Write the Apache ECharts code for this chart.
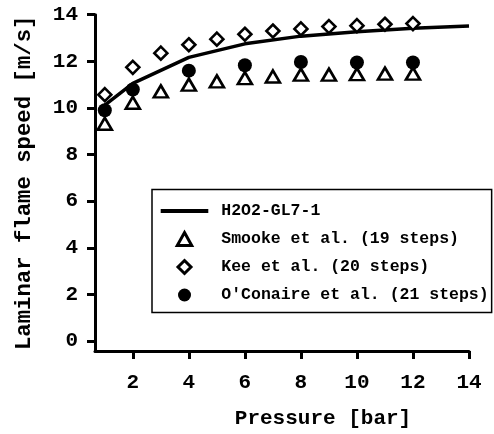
<!DOCTYPE html>
<html>
<head>
<meta charset="utf-8">
<script src="https://cdn.jsdelivr.net/npm/echarts@6/dist/echarts.min.js"></script>
<style>html,body{margin:0;padding:0;background:#fff}#c{width:494px;height:434px}</style>
</head>
<body>
<div id="c"></div>
<script>
var seriesNames = ['H2O2-GL7-1', 'Smooke et al. (19 steps)', 'Kee et al. (20 steps)', "O'Conaire et al. (21 steps)"];
var xTicks = [2, 4, 6, 8, 10, 12, 14];
var yTicks = [0, 2, 4, 6, 8, 10, 12, 14];

var glPressure = [1, 2, 4, 6, 8, 10, 12, 14];
var glSpeed = [10.12, 11.05, 12.17, 12.75, 13.08, 13.27, 13.42, 13.52];

var smookePressure = [1, 2, 3, 4, 5, 6, 7, 8, 9, 10, 11, 12];
var smookeSpeed = [9.32, 10.22, 10.71, 11.0, 11.14, 11.28, 11.35, 11.43, 11.43, 11.45, 11.47, 11.47];

var keePressure = [1, 2, 3, 4, 5, 6, 7, 8, 9, 10, 11, 12];
var keeSpeed = [10.57, 11.74, 12.35, 12.71, 12.95, 13.16, 13.3, 13.39, 13.49, 13.53, 13.59, 13.62];

var oconPressure = [1, 2, 4, 6, 8, 10, 12];
var oconSpeed = [9.9, 10.79, 11.6, 11.83, 11.97, 11.95, 11.95];

function pairs(xs, ys) { return xs.map(function (x, i) { return [x, ys[i]]; }); }

var FONT = '"Liberation Mono", "Courier New", monospace';
var chart = echarts.init(document.getElementById('c'), null, {renderer: 'canvas'});
chart.setOption({
  animation: false,
  backgroundColor: '#fff',
  grid: {left: 95, right: 25, top: 14.7, bottom: 81.3, containLabel: false},
  xAxis: {
    type: 'value', min: 0.65, max: 14,
    name: 'Pressure [bar]', nameLocation: 'middle', nameGap: 57,
    nameTextStyle: {fontFamily: FONT, fontWeight: 'bold', fontSize: 21, color: '#000', padding: [0, 0, 0, 82]},
    axisLine: {show: true, onZero: false, lineStyle: {color: '#000', width: 3}},
    axisTick: {show: true, inside: false, length: 8, customValues: xTicks, lineStyle: {color: '#000', width: 3}},
    axisLabel: {customValues: xTicks, margin: 21, fontFamily: FONT, fontWeight: 'bold', fontSize: 21, color: '#000'},
    splitLine: {show: false}
  },
  yAxis: {
    type: 'value', min: -0.43, max: 14,
    name: 'Laminar flame speed [m/s]', nameLocation: 'middle', nameGap: 60,
    nameTextStyle: {fontFamily: FONT, fontWeight: 'bold', fontSize: 22.3, color: '#000'},
    axisLine: {show: true, onZero: false, lineStyle: {color: '#000', width: 3}},
    axisTick: {show: true, inside: false, length: 8, customValues: yTicks, lineStyle: {color: '#000', width: 3}},
    axisLabel: {customValues: yTicks, margin: 17, fontFamily: FONT, fontWeight: 'bold', fontSize: 21, color: '#000'},
    splitLine: {show: false}
  },
  legend: {
    orient: 'vertical', left: 152, top: 189.5,
    padding: [13, 3, 9, 8.7],
    itemWidth: 47.6, itemHeight: 13, itemGap: 11,
    borderColor: '#000', borderWidth: 1.5, backgroundColor: '#fff',
    textStyle: {fontFamily: FONT, fontWeight: 'bold', fontSize: 16.5, color: '#000', lineHeight: 16, padding: [0, 0, 0, 8]},
    data: [
      {name: seriesNames[0], icon: 'path://M0,0 L100,0 L100,8.5 L0,8.5 Z', itemStyle: {color: '#000', borderWidth: 0}},
      {name: seriesNames[1], icon: 'path://M50,0 L100,90 L0,90 Z', itemStyle: {borderWidth: 3}},
      {name: seriesNames[2], icon: 'path://M50,0 L100,50 L50,100 L0,50 Z', itemStyle: {borderWidth: 3}},
      {name: seriesNames[3]}
    ]
  },
  series: [
    {name: seriesNames[0], type: 'line', data: pairs(glPressure, glSpeed), symbol: 'none', smooth: false,
     lineStyle: {color: '#000', width: 3.5}, itemStyle: {color: '#000'}, z: 1},
    {name: seriesNames[1], type: 'scatter', data: pairs(smookePressure, smookeSpeed), symbol: 'triangle', symbolSize: [14, 12],
     itemStyle: {color: '#fff', borderColor: '#000', borderWidth: 2.6, opacity: 1}, z: 2},
    {name: seriesNames[2], type: 'scatter', data: pairs(keePressure, keeSpeed), symbol: 'diamond', symbolSize: [13, 13],
     itemStyle: {color: '#fff', borderColor: '#000', borderWidth: 2.6, opacity: 1}, z: 2},
    {name: seriesNames[3], type: 'scatter', data: pairs(oconPressure, oconSpeed), symbol: 'circle', symbolSize: 14,
     itemStyle: {color: '#000', borderWidth: 0, opacity: 1}, z: 3}
  ]
});
</script>
</body>
</html>
